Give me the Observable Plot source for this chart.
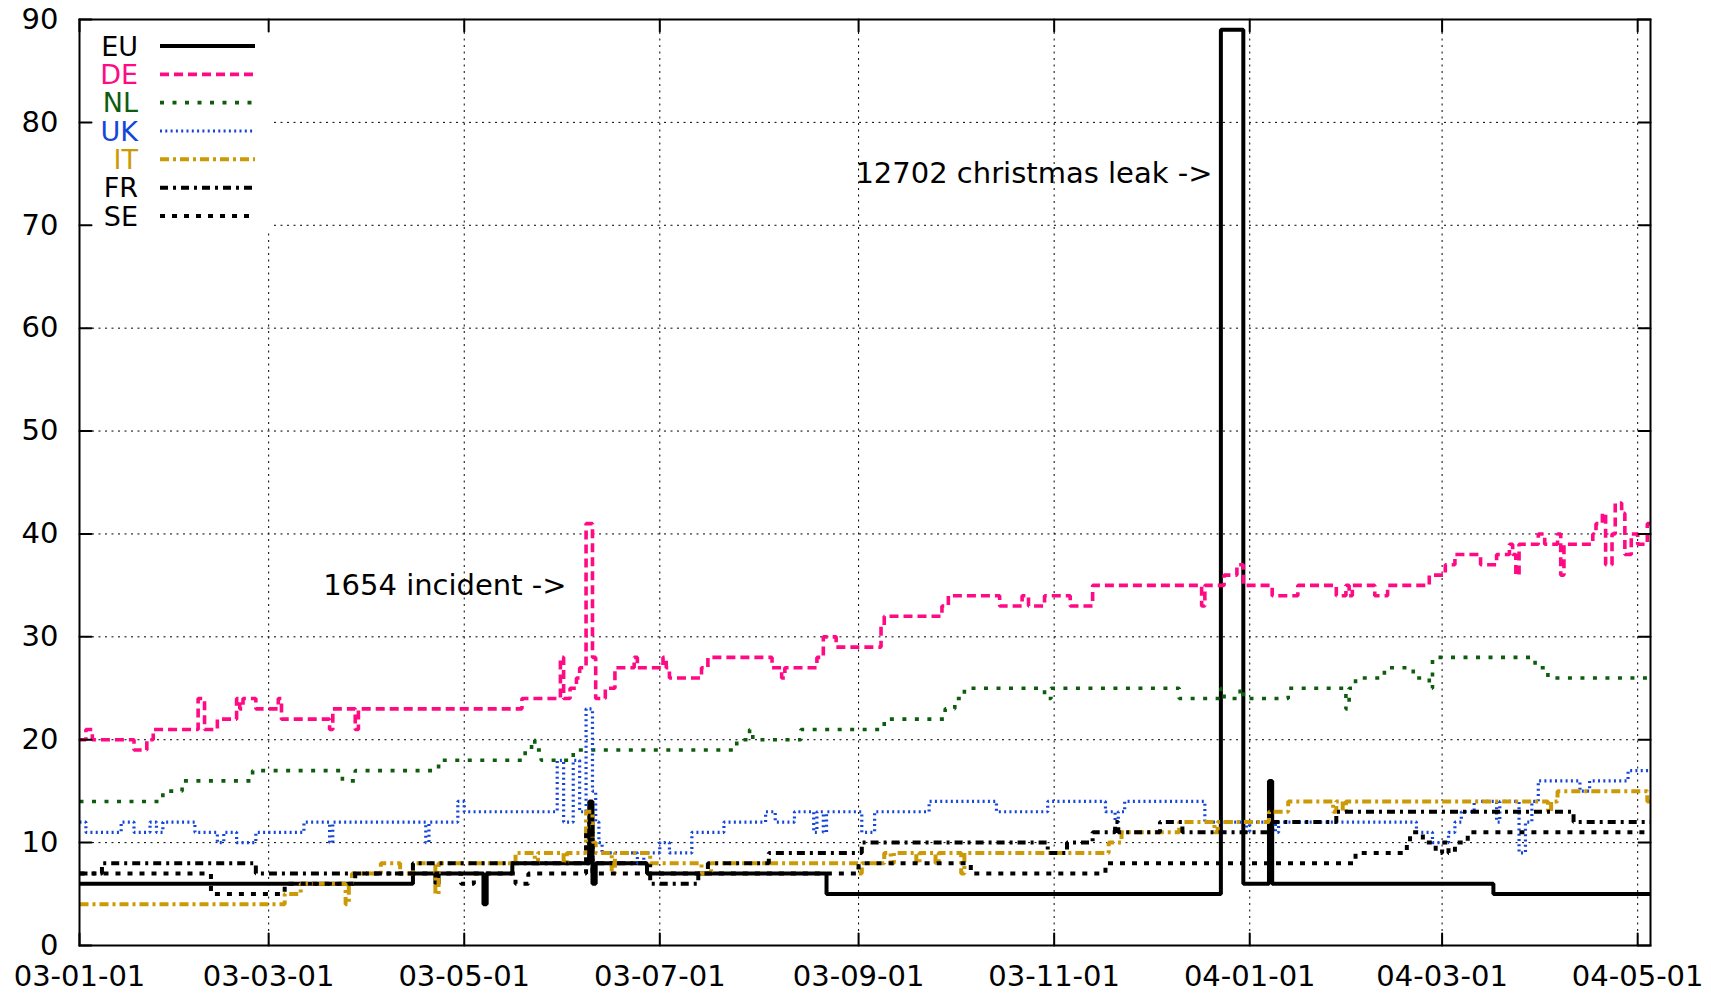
<!DOCTYPE html>
<html><head><meta charset="utf-8">
<script src="https://cdn.jsdelivr.net/npm/d3@7"></script>
<script src="https://cdn.jsdelivr.net/npm/@observablehq/plot@0.6"></script>
<style>
html,body{margin:0;padding:0;background:#fff;}
#wrap{position:relative;width:1711px;height:993px;}
#wrap svg{position:absolute;left:0;top:0;}
</style></head><body><div id="wrap"></div>
<script>
const seriesNames = ["EU","DE","NL","UK","IT","FR","SE"];

const EU = [["2003-01-01",6],["2003-04-15",7],["2003-04-22",6],["2003-04-23",7],["2003-05-07",4],["2003-05-08",7],["2003-05-16",8],["2003-06-09",14],["2003-06-10",6],["2003-06-11",8],["2003-06-27",7],["2003-08-22",5],["2003-12-23",89],["2003-12-30",6],["2004-01-07",16],["2004-01-08",6],["2004-03-17",5],["2004-05-05",5]];

const DE = [["2003-01-01",20],["2003-01-03",21],["2003-01-05",20],["2003-01-18",19],["2003-01-22",20],["2003-01-24",21],["2003-02-07",24],["2003-02-09",21],["2003-02-13",22],["2003-02-19",24],["2003-02-20",23],["2003-02-21",24],["2003-02-25",23],["2003-03-04",24],["2003-03-05",22],["2003-03-20",21],["2003-03-21",23],["2003-03-28",21],["2003-03-29",23],["2003-05-19",24],["2003-05-31",28],["2003-06-01",24],["2003-06-03",25],["2003-06-05",26],["2003-06-06",27],["2003-06-08",41],["2003-06-10",28],["2003-06-11",24],["2003-06-14",25],["2003-06-17",27],["2003-06-23",28],["2003-06-24",27],["2003-07-02",28],["2003-07-03",27],["2003-07-04",26],["2003-07-14",27],["2003-07-16",28],["2003-08-05",27],["2003-08-08",26],["2003-08-09",27],["2003-08-19",28],["2003-08-21",30],["2003-08-25",29],["2003-09-08",31],["2003-09-09",32],["2003-09-27",33],["2003-09-29",34],["2003-10-15",33],["2003-10-22",34],["2003-10-24",33],["2003-10-29",34],["2003-11-06",33],["2003-11-13",35],["2003-12-17",33],["2003-12-18",35],["2003-12-24",36],["2003-12-28",37],["2003-12-30",35],["2004-01-08",34],["2004-01-16",35],["2004-01-28",34],["2004-01-31",35],["2004-02-01",34],["2004-02-02",35],["2004-02-09",34],["2004-02-13",35],["2004-02-26",36],["2004-03-02",37],["2004-03-05",38],["2004-03-13",37],["2004-03-18",38],["2004-03-22",39],["2004-03-23",38],["2004-03-24",36],["2004-03-25",39],["2004-03-31",40],["2004-04-02",39],["2004-04-06",40],["2004-04-07",36],["2004-04-08",39],["2004-04-17",40],["2004-04-18",41],["2004-04-20",42],["2004-04-21",37],["2004-04-23",40],["2004-04-24",43],["2004-04-26",42],["2004-04-27",38],["2004-04-29",40],["2004-05-01",39],["2004-05-04",41],["2004-05-05",41]];

const NL = [["2003-01-01",14],["2003-01-27",15],["2003-02-02",16],["2003-02-24",17],["2003-03-24",16],["2003-03-28",17],["2003-04-23",18],["2003-05-20",19],["2003-05-22",20],["2003-05-23",19],["2003-05-25",18],["2003-06-04",19],["2003-07-25",20],["2003-07-29",21],["2003-07-30",20],["2003-08-14",21],["2003-09-09",22],["2003-09-28",23],["2003-10-01",24],["2003-10-04",25],["2003-10-29",24],["2003-10-31",25],["2003-12-10",24],["2003-12-23",25],["2003-12-24",24],["2003-12-29",25],["2003-12-30",24],["2004-01-13",25],["2004-01-31",23],["2004-02-01",25],["2004-02-03",26],["2004-02-12",27],["2004-02-21",26],["2004-02-26",25],["2004-02-27",28],["2004-03-30",27],["2004-04-03",26],["2004-05-05",26]];

const UK = [["2003-01-01",12],["2003-01-03",11],["2003-01-14",12],["2003-01-18",11],["2003-01-23",12],["2003-01-25",11],["2003-01-27",12],["2003-02-06",11],["2003-02-13",10],["2003-02-15",11],["2003-02-19",10],["2003-02-25",11],["2003-03-12",12],["2003-03-20",10],["2003-03-21",12],["2003-04-19",10],["2003-04-20",12],["2003-04-29",14],["2003-05-01",13],["2003-05-30",18],["2003-06-01",12],["2003-06-04",18],["2003-06-06",13],["2003-06-08",23],["2003-06-10",15],["2003-06-11",12],["2003-06-12",10],["2003-06-13",9],["2003-06-24",8],["2003-06-26",9],["2003-07-01",10],["2003-07-04",9],["2003-07-11",11],["2003-07-21",12],["2003-08-03",13],["2003-08-06",12],["2003-08-12",13],["2003-08-18",11],["2003-08-19",13],["2003-08-21",11],["2003-08-22",13],["2003-09-02",11],["2003-09-06",13],["2003-09-23",14],["2003-10-14",13],["2003-10-30",14],["2003-11-17",13],["2003-11-20",12],["2003-11-21",13],["2003-11-23",14],["2003-12-18",12],["2003-12-31",11],["2004-01-01",12],["2004-01-09",11],["2004-01-10",12],["2004-02-22",11],["2004-02-27",10],["2004-03-03",11],["2004-03-05",12],["2004-03-07",13],["2004-03-11",14],["2004-03-18",12],["2004-03-19",14],["2004-03-25",9],["2004-03-27",12],["2004-03-29",14],["2004-03-31",16],["2004-04-13",15],["2004-04-16",16],["2004-04-28",17],["2004-05-05",17]];

const IT = [["2003-01-01",4],["2003-03-06",5],["2003-03-11",6],["2003-03-25",4],["2003-03-26",6],["2003-03-27",7],["2003-04-05",8],["2003-04-11",7],["2003-04-15",8],["2003-04-22",5],["2003-04-23",8],["2003-05-17",9],["2003-05-23",8],["2003-05-24",9],["2003-06-01",8],["2003-06-02",9],["2003-06-08",13],["2003-06-10",10],["2003-06-11",9],["2003-06-16",7],["2003-06-17",9],["2003-06-28",8],["2003-07-14",7],["2003-07-17",8],["2003-09-01",7],["2003-09-02",8],["2003-09-09",9],["2003-09-11",8],["2003-09-12",9],["2003-09-19",8],["2003-09-20",9],["2003-09-25",8],["2003-09-26",9],["2003-10-03",7],["2003-10-04",9],["2003-11-18",10],["2003-11-22",11],["2003-12-10",12],["2003-12-21",11],["2003-12-22",12],["2004-01-07",13],["2004-01-13",14],["2004-01-27",13],["2004-01-28",14],["2004-01-30",13],["2004-01-31",14],["2004-04-03",13],["2004-04-04",14],["2004-04-06",15],["2004-05-04",14],["2004-05-05",14]];

const FR = [["2003-01-01",7],["2003-01-08",8],["2003-02-25",7],["2003-04-15",8],["2003-06-09",12],["2003-06-10",8],["2003-06-28",6],["2003-07-13",7],["2003-07-16",8],["2003-08-04",9],["2003-09-02",10],["2003-10-30",9],["2003-11-05",10],["2003-11-13",11],["2003-11-20",12],["2003-11-21",11],["2003-12-04",12],["2003-12-11",11],["2004-01-08",12],["2004-01-28",13],["2004-04-11",12],["2004-05-05",12]];

const SE = [["2003-01-01",7],["2003-02-11",5],["2003-03-06",6],["2003-03-28",7],["2003-04-30",6],["2003-05-04",7],["2003-05-17",6],["2003-05-21",7],["2003-06-08",11],["2003-06-10",7],["2003-09-01",8],["2003-10-06",7],["2003-11-17",8],["2004-02-03",9],["2004-02-19",10],["2004-02-20",11],["2004-02-24",10],["2004-02-28",9],["2004-03-01",10],["2004-03-03",9],["2004-03-05",10],["2004-03-09",11],["2004-05-05",11]];

const xTickLabels = ["03-01-01","03-03-01","03-05-01","03-07-01","03-09-01","03-11-01","04-01-01","04-03-01","04-05-01"];
const yTickValues = [0,10,20,30,40,50,60,70,80,90];
const annotations = [
  {date:"2003-03-18", value:35, text:"1654 incident ->"},
  {date:"2003-08-31", value:75, text:"12702 christmas leak ->"}
];

const styles = {
  EU:{color:"#000000", dash:null, width:4},
  DE:{color:"#ff0a84", dash:"9,5", width:3.6},
  NL:{color:"#0e5c0e", dash:"4,8.5", width:3.6},
  UK:{color:"#1446d9", dash:"2,3.3", width:3.2},
  IT:{color:"#cc9a06", dash:"9,4,3,4", width:4},
  FR:{color:"#000000", dash:"8,5,3,5", width:4},
  SE:{color:"#000000", dash:"5,7", width:4}
};

const parse = d3.utcParse("%Y-%m-%d");
const parseTick = d3.utcParse("%y-%m-%d");
const fmt = d3.utcFormat("%y-%m-%d");
const seriesData = {EU, DE, NL, UK, IT, FR, SE};
const rows = seriesNames.flatMap(name => seriesData[name].map(([d, v]) => ({series: name, date: parse(d), value: v})));
const xTicks = xTickLabels.map(parseTick);
const ann = annotations.map(a => ({...a, date: parse(a.date)}));
const xDomain = [parse("2003-01-01"), parse("2004-05-05")];

const tickShape = {draw(ctx, l) { ctx.moveTo(0, 0); ctx.lineTo(0, -l); }};
const tickOpts = {length: 12, anchor: "start", shape: tickShape, stroke: "black", strokeWidth: 2};
const gridDash = "2,4.5";

const lineMarks = seriesNames.map(name => {
  const st = styles[name];
  const o = {x: "date", y: "value", curve: "step-after", stroke: st.color, strokeWidth: st.width,
             strokeLinecap: "butt", strokeLinejoin: "miter"};
  if (st.dash) o.strokeDasharray = st.dash;
  return Plot.line(rows.filter(r => r.series === name), o);
});

const chart = Plot.plot({
  width: 1711, height: 993,
  marginLeft: 79, marginRight: 61, marginTop: 19, marginBottom: 48,
  style: {fontFamily: "'DejaVu Sans', sans-serif", fontSize: "29px", background: "white", color: "black"},
  x: {type: "utc", domain: xDomain},
  y: {domain: [0, 90]},
  marks: [
    Plot.ruleX(xTicks.slice(1), {stroke: "black", strokeWidth: 1, strokeDasharray: gridDash}),
    Plot.ruleY(yTickValues.filter(v => v > 0 && v < 90), {stroke: "black", strokeWidth: 1, strokeDasharray: gridDash}),
    Plot.rect([{}], {x1: parse("2003-01-01"), x2: parse("2003-03-02"), y1: 69.5, y2: 90, fill: "white"}),
    ...lineMarks,
    Plot.text(ann, {x: "date", y: "value", text: "text", textAnchor: "start", fill: "black"}),
    Plot.frame({stroke: "black", strokeWidth: 2}),
    Plot.vector(xTicks, {x: d => d, frameAnchor: "bottom", rotate: 0, ...tickOpts}),
    Plot.vector(xTicks, {x: d => d, frameAnchor: "top", rotate: 180, ...tickOpts}),
    Plot.vector(yTickValues, {y: d => d, frameAnchor: "left", rotate: 90, ...tickOpts}),
    Plot.vector(yTickValues, {y: d => d, frameAnchor: "right", rotate: -90, ...tickOpts}),
    Plot.axisX({ticks: xTicks, tickFormat: fmt, tickSize: 0, tickPadding: 20, label: null}),
    Plot.axisY({ticks: yTickValues, tickSize: 0, tickPadding: 21, label: null})
  ]
});
document.getElementById("wrap").appendChild(chart);

// legend (inside the frame, top-left)
const leg = d3.select("#wrap").append("svg").attr("width", 1711).attr("height", 993).style("pointer-events", "none");
seriesNames.forEach((name, i) => {
  const st = styles[name];
  const y = 46 + i * 28.33;
  leg.append("text").attr("x", 138).attr("y", y).attr("dy", "0.36em").attr("text-anchor", "end")
    .attr("fill", st.color).style("font-family", "'DejaVu Sans', sans-serif").style("font-size", "27px").text(name);
  const ln = leg.append("line").attr("x1", 160).attr("x2", 255).attr("y1", y).attr("y2", y)
    .attr("stroke", st.color).attr("stroke-width", st.width);
  if (st.dash) ln.attr("stroke-dasharray", st.dash);
});
</script></body></html>
